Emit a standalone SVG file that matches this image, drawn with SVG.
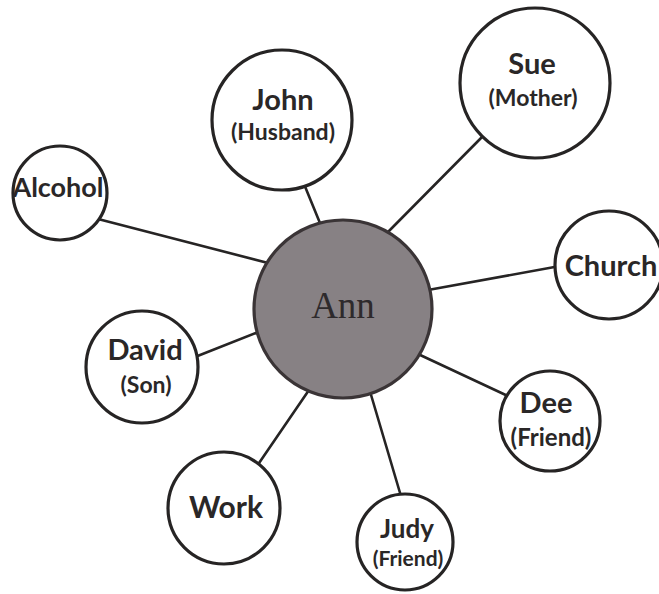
<svg xmlns="http://www.w3.org/2000/svg" width="659" height="594" viewBox="0 0 659 594">
<style>
.bg{fill:#ffffff}
.node{fill:#ffffff;stroke:#262424;stroke-width:3.2}
.center{fill:#878184;stroke:#3a3436;stroke-width:3.2}
.edge{stroke:#262424;stroke-width:2.6;fill:none;stroke-linecap:round}
.t{font-family:Lato,"Open Sans","Liberation Sans",sans-serif;font-weight:bold;fill:#2a2727;text-anchor:middle}
.name{font-size:29px}
.sub{font-size:23px}
.ann{font-family:"Liberation Serif","DejaVu Serif",serif;font-size:37px;fill:#2e2a2c;text-anchor:middle}
</style>
<rect class="bg" x="0" y="0" width="659" height="594"/>
<g id="connectors">
<line class="edge" x1="304" y1="184" x2="322" y2="228"/>
<line class="edge" x1="485" y1="134" x2="386" y2="234"/>
<line class="edge" x1="98" y1="219" x2="272" y2="264"/>
<line class="edge" x1="560" y1="266" x2="428" y2="290"/>
<line class="edge" x1="195" y1="357" x2="261" y2="331"/>
<line class="edge" x1="510" y1="397" x2="418" y2="354"/>
<line class="edge" x1="257" y1="466" x2="309" y2="390"/>
<line class="edge" x1="403" y1="503" x2="369" y2="388"/>
</g>
<g id="ann">
<circle class="center" cx="343" cy="309" r="89"/>
<text class="ann" x="343" y="318">Ann</text>
</g>
<g id="john">
<circle class="node" cx="282" cy="120" r="70"/>
<text class="t name" x="283" y="110">John</text>
<text class="t sub" x="283" y="140">(Husband)</text>
</g>
<g id="sue">
<circle class="node" cx="535" cy="83" r="75"/>
<text class="t name" x="532" y="74">Sue</text>
<text class="t sub" x="533" y="106">(Mother)</text>
</g>
<g id="alcohol">
<circle class="node" cx="60" cy="193" r="47"/>
<text class="t name" x="58" y="197" style="font-size:27px">Alcohol</text>
</g>
<g id="church">
<circle class="node" cx="609" cy="265" r="54"/>
<text class="t name" x="611" y="276">Church</text>
</g>
<g id="david">
<circle class="node" cx="142" cy="367" r="56"/>
<text class="t name" x="145" y="360">David</text>
<text class="t sub" x="146" y="393">(Son)</text>
</g>
<g id="dee">
<circle class="node" cx="550" cy="421" r="50"/>
<text class="t name" x="546" y="413">Dee</text>
<text class="t sub" x="551" y="446" style="font-size:24px">(Friend)</text>
</g>
<g id="work">
<circle class="node" cx="224" cy="508" r="56"/>
<text class="t name" x="226" y="518" style="font-size:30px">Work</text>
</g>
<g id="judy">
<circle class="node" cx="405" cy="542" r="48"/>
<text class="t name" x="407" y="538" style="font-size:26px">Judy</text>
<text class="t sub" x="408" y="566" style="font-size:21px">(Friend)</text>
</g>
</svg>
